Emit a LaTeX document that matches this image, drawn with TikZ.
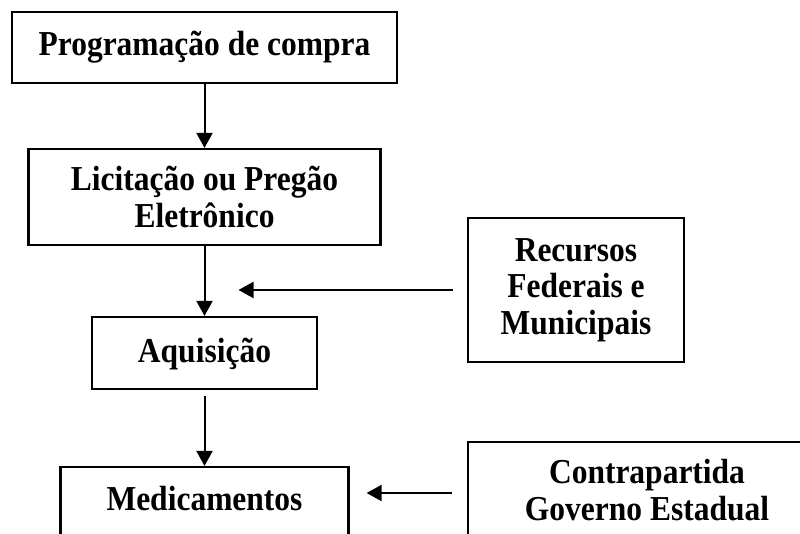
\documentclass[tikz,border=0pt]{standalone}
\usepackage{fontspec}
\setmainfont{Liberation Serif}[FakeStretch=0.9]
\usetikzlibrary{arrows.meta,calc,positioning}

\begin{document}
\begin{tikzpicture}[
      x=1pt,y=-1pt,
      >={Triangle[length=15pt,width=16pt]},
      every node/.style={font=\fontsize{35}{36.7}\selectfont\bfseries},
      node distance=150pt,
      stage/.style={
        draw,
        line width=2.2pt,
        inner sep=0pt,
        align=center
      },
      flow/.style={
        ->,
        line width=2pt
      }
  ]
  \clip (0,0) rectangle (800,533);

  % Boxes
  \node [
	  stage,
	  minimum width=385pt,
	  minimum height=71pt,
  ] (prog) at (204.5,47.5) {Programação de compra};
  \node [
	  stage,
	  below of=prog,
	  node distance=149.5pt,
	  minimum width=352pt,
	  minimum height=96pt,
  ] (lic) {Licitação ou Pregão\\Eletrônico};
  \node [
	  stage,
	  below of=lic,
	  node distance=156pt,
	  minimum width=225pt,
	  minimum height=72pt,
	  text height=24pt,
	  text depth=6pt,
  ] (acq) {Aquisição};
  \node [
	  stage,
	  below of=acq,
	  node distance=153pt,
	  minimum width=288pt,
	  minimum height=78pt,
	  text height=24pt,
	  text depth=16pt,
  ] (med) {Medicamentos};
  \node [
	  stage,
	  minimum width=216pt,
	  minimum height=144pt,
  ] (rec) at (576,290) {Recursos\\Federais e\\Municipais};
  \node [
	  stage,
	  minimum width=358pt,
	  minimum height=96pt,
  ] (contra) at (647,490) {Contrapartida\\Governo Estadual};

  \coordinate (join) at ($(acq.north |- rec.west)+(34,0)$);

  % Connecting Arrows
  \draw[flow] (prog.south) -- (lic.north);
  \draw[flow] (lic.south) -- (acq.north);
  \draw[flow] ([yshift=-6pt]acq.south) -- (med.north);
  \draw[flow] ([xshift=-14pt]rec.west) -- (join);
  \draw[flow] ([xshift=-15pt,yshift=-3pt]contra.west) -- ($(med.east |- contra.west)+(17,3)$);

\end{tikzpicture}
\end{document}
